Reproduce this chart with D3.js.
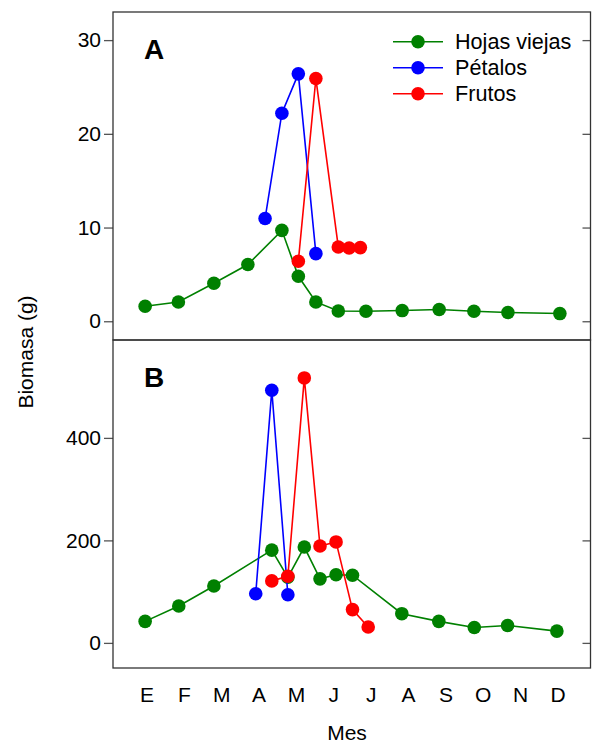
<!DOCTYPE html>
<html>
<head>
<meta charset="utf-8">
<script src="https://cdn.jsdelivr.net/npm/d3@7"></script>
<style>
  html, body { margin: 0; padding: 0; background: #fff; }
  svg { display: block; font-family: "Liberation Sans", Arial, Helvetica, sans-serif; }
</style>
</head>
<body>
<svg id="chart" width="592" height="745"></svg>
<script>
// Month labels (x positions are month numbers 1..12)
const months = ["E", "F", "M", "A", "M", "J", "J", "A", "S", "O", "N", "D"];
const seriesNames = ["Hojas viejas", "Pétalos", "Frutos"];
const seriesColors = ["#008000", "#0000ff", "#ff0000"];

// Panel A: biomass (g), sampling date as decimal month
const aHojasX   = [0.95, 1.84, 2.79, 3.70, 4.61, 5.05, 5.52, 6.12, 6.86, 7.83, 8.82, 9.75, 10.66, 12.05];
const aHojasY   = [1.6, 2.06, 4.05, 6.05, 9.7, 4.8, 2.06, 1.1, 1.07, 1.14, 1.25, 1.07, 0.93, 0.82];
const aPetalosX = [4.16, 4.61, 5.05, 5.52];
const aPetalosY = [10.96, 22.2, 26.4, 7.22];
const aFrutosX  = [5.05, 5.52, 6.12, 6.41, 6.71];
const aFrutosY  = [6.4, 25.9, 7.93, 7.82, 7.86];
const aTicks    = [0, 10, 20, 30];

// Panel B
const bHojasX   = [0.95, 1.85, 2.79, 4.34, 4.77, 5.21, 5.63, 6.06, 6.50, 7.82, 8.81, 9.76, 10.65, 11.97];
const bHojasY   = [42, 72, 111, 181, 128, 187, 125, 133, 132, 57, 42, 30, 34, 23];
const bPetalosX = [3.91, 4.34, 4.77];
const bPetalosY = [96, 493, 94];
const bFrutosX  = [4.34, 4.77, 5.21, 5.63, 6.06, 6.50, 6.92];
const bFrutosY  = [121, 130, 517, 189, 197, 65, 31];
const bTicks    = [0, 200, 400];

const svg = d3.select("#chart");
const left = 113, right = 590.5;
const font = 21;
const dotR = 6.8;

const x = d3.scaleLinear().domain([1, 12]).range([147, 558]);

const panels = [
  { label: "A", top: 12, bottom: 340, domain: [-2, 33], ticks: aTicks,
    series: [[aHojasX, aHojasY], [aPetalosX, aPetalosY], [aFrutosX, aFrutosY]], legend: true },
  { label: "B", top: 340, bottom: 668, domain: [-49, 591], ticks: bTicks,
    series: [[bHojasX, bHojasY], [bPetalosX, bPetalosY], [bFrutosX, bFrutosY]], legend: false }
];

panels.forEach(p => {
  const y = d3.scaleLinear().domain(p.domain).range([p.bottom, p.top]);
  const g = svg.append("g");

  // left axis, ticks outward
  const yl = g.append("g").attr("transform", `translate(${left},0)`)
    .call(d3.axisLeft(y).tickValues(p.ticks).tickSize(9).tickPadding(3).tickFormat(d3.format("d")));
  yl.select(".domain").remove();
  yl.selectAll(".tick line").attr("stroke", "#555").attr("stroke-width", 1.3);
  yl.selectAll(".tick text").attr("font-size", font).attr("fill", "#000")
    .attr("font-family", "Liberation Sans, Arial, sans-serif");

  // right axis, ticks inward
  const yr = g.append("g").attr("transform", `translate(${right},0)`)
    .call(d3.axisRight(y).tickValues(p.ticks).tickSize(-8).tickFormat(""));
  yr.select(".domain").remove();
  yr.selectAll(".tick line").attr("stroke", "#555").attr("stroke-width", 1.3);

  // series: lines then markers
  const line = d3.line().x(d => x(d[0])).y(d => y(d[1]));
  p.series.forEach((s, i) => {
    const pts = s[0].map((v, k) => [v, s[1][k]]);
    g.append("path").datum(pts).attr("d", line)
      .attr("fill", "none").attr("stroke", seriesColors[i]).attr("stroke-width", 1.6);
    g.selectAll(null).data(pts).enter().append("circle")
      .attr("cx", d => x(d[0])).attr("cy", d => y(d[1])).attr("r", dotR)
      .attr("fill", seriesColors[i]);
  });

  // panel frame
  g.append("rect").attr("x", left).attr("y", p.top)
    .attr("width", right - left).attr("height", p.bottom - p.top)
    .attr("fill", "none").attr("stroke", "#333").attr("stroke-width", 1.3);

  // panel letter
  g.append("text").attr("x", 144).attr("y", p.top + 47)
    .attr("font-size", 28).attr("font-weight", "bold").text(p.label);

  if (p.legend) {
    const lg = g.append("g");
    seriesNames.forEach((name, i) => {
      const cy = 41.7 + i * 26;
      lg.append("line").attr("x1", 393).attr("x2", 443).attr("y1", cy).attr("y2", cy)
        .attr("stroke", seriesColors[i]).attr("stroke-width", 1.6);
      lg.append("circle").attr("cx", 418).attr("cy", cy).attr("r", dotR).attr("fill", seriesColors[i]);
      lg.append("text").attr("x", 455).attr("y", cy).attr("dy", "0.36em")
        .attr("font-size", 21.6).text(name);
    });
  }
});

// month labels under panel B
svg.append("g").selectAll("text").data(months).enter().append("text")
  .attr("x", (d, i) => x(i + 1)).attr("y", 702)
  .attr("text-anchor", "middle").attr("font-size", font).text(d => d);

// axis titles
svg.append("text").attr("x", 347).attr("y", 740)
  .attr("text-anchor", "middle").attr("font-size", font).text("Mes");
svg.append("text").attr("transform", "translate(33,352) rotate(-90)")
  .attr("text-anchor", "middle").attr("font-size", font).text("Biomasa (g)");
</script>
</body>
</html>
